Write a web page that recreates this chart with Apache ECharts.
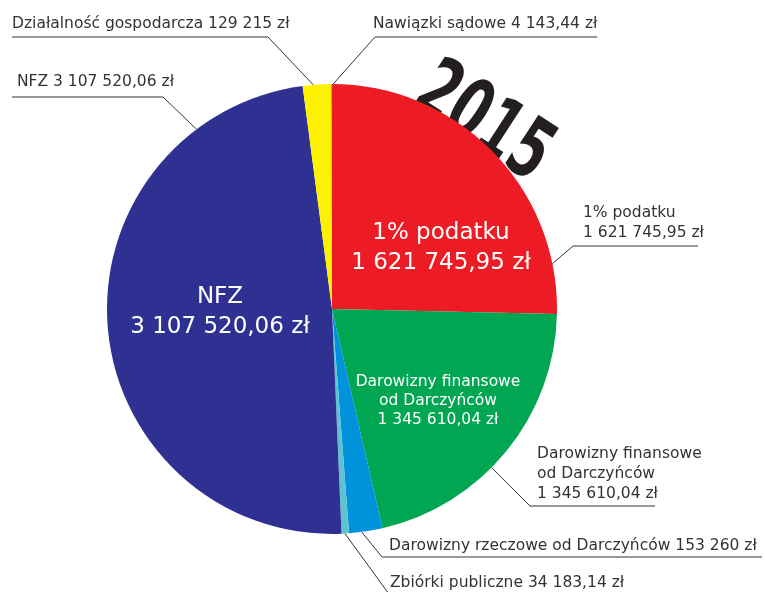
<!DOCTYPE html>
<html><head><meta charset="utf-8">
<script src="https://cdn.jsdelivr.net/npm/echarts@6/dist/echarts.min.js"></script>
<style>html,body{margin:0;padding:0;background:#fff}#main{width:765px;height:592px}</style>
</head><body><div id="main"></div>
<script>
// ---- data ----
const categories = ['1% podatku','Darowizny finansowe\nod Darczyńców','Darowizny rzeczowe od Darczyńców','Zbiórki publiczne','NFZ','Działalność gospodarcza','Nawiązki sądowe'];
const values = [1621745.95, 1345610.04, 153260, 34183.14, 3107520.06, 129215, 4143.44];
const yearLabel = '2015';

// ---- styling / layout ----
const colors = ['#ED1C24','#00A651','#0093DB','#5DC3D0','#2E3192','#FFF200','#A3AA72'];
const FONT = '"DejaVu Sans", sans-serif';
const CX = 332, CY = 309, R = 225;
// outside labels: anchor angle on circle (deg), elbow, end of underline, text x, text bottom, multi-line
const outLayout = [
  {ang: 11.6,  elbow:[573,246], end:[698,246], tx:583, tb:243, multi:true},
  {ang: -44.8, elbow:[530,506], end:[655,506], tx:537, tb:504, multi:true},
  {ang: -82.4, elbow:[382,557], end:[762,557], tx:389, tb:556, multi:false},
  {ang: -86.7, elbow:[389,594], end:[765,594], tx:390, tb:593, multi:false},
  {ang: 127,   elbow:[163,97],  end:[12,97],   tx:17,  tb:92,  multi:false},
  {ang: 94.8,  elbow:[268,37],  end:[12,37],   tx:12,  tb:34,  multi:false},
  {ang: 89.7,  elbow:[375,37],  end:[597,37],  tx:373, tb:34,  multi:false}
];
// inside labels: shown, center, size, lineHeight
const inLayout = [
  {show:true,  cx:441, cy:248, fs:23, lh:30},
  {show:true,  cx:438, cy:401, fs:15.5, lh:19},
  {show:false},{show:false},
  {show:true,  cx:220, cy:312, fs:23, lh:30},
  {show:false},{show:false}
];

function fmt(v){
  const s = v.toFixed(2).split('.');
  const i = s[0].replace(/\B(?=(\d{3})+(?!\d))/g, ' ');
  return (s[1] === '00' ? i : i + ',' + s[1]) + ' zł';
}

const chart = echarts.init(document.getElementById('main'), null, {renderer:'canvas'});

const frontData = categories.map((c, i) => ({
  name: c, value: values[i],
  itemStyle: {color: colors[i]},
  label: inLayout[i].show ? {
    show: true, fontSize: inLayout[i].fs, lineHeight: inLayout[i].lh,
    formatter: c + '\n' + fmt(values[i])
  } : {show: false}
}));

const backData = categories.map((c, i) => ({
  name: c, value: values[i],
  label: {formatter: outLayout[i].multi ? c + '\n' + fmt(values[i]) : c.replace('\n', ' ') + ' ' + fmt(values[i])}
}));

chart.setOption({
  animation: false,
  backgroundColor: '#ffffff',
  graphic: [{
    type: 'text', z: 0,
    x: 482, y: 125, rotation: -33 * Math.PI / 180, scaleX: 0.62,
    style: {text: yearLabel, fill: '#231F20', font: 'bold 84px "DejaVu Sans", sans-serif', textAlign: 'center', textVerticalAlign: 'middle'}
  }],
  series: [
    {
      type: 'pie', z: 2, silent: true,
      center: [CX, CY], radius: [0, R],
      startAngle: 90, clockwise: true,
      avoidLabelOverlap: false,
      itemStyle: {borderWidth: 0},
      label: {position: 'inside', color: '#ffffff', fontFamily: FONT, align: 'center'},
      labelLine: {show: false},
      labelLayout: function (p) {
        const o = inLayout[p.dataIndex];
        if (!o.show) return {};
        return {x: o.cx, y: o.cy, align: 'center', verticalAlign: 'middle'};
      },
      data: frontData
    },
    {
      type: 'pie', z: 3, silent: true,
      center: [CX, CY], radius: [0, R],
      startAngle: 90, clockwise: true,
      avoidLabelOverlap: false,
      itemStyle: {color: 'rgba(0,0,0,0)', borderWidth: 0},
      label: {show: true, position: 'outside', color: '#333333', fontFamily: FONT, fontSize: 15.5, lineHeight: 20, align: 'left'},
      labelLine: {show: true, smooth: false, length: 10, length2: 10, lineStyle: {color: '#333333', width: 1}},
      labelLayout: function (p) {
        const o = outLayout[p.dataIndex];
        const a = o.ang * Math.PI / 180;
        const edge = [CX + R * Math.cos(a), CY - R * Math.sin(a)];
        return {x: o.tx, y: o.tb, align: 'left', verticalAlign: 'bottom',
                labelLinePoints: [edge, o.elbow, o.end]};
      },
      data: backData
    }
  ]
});
</script></body></html>
